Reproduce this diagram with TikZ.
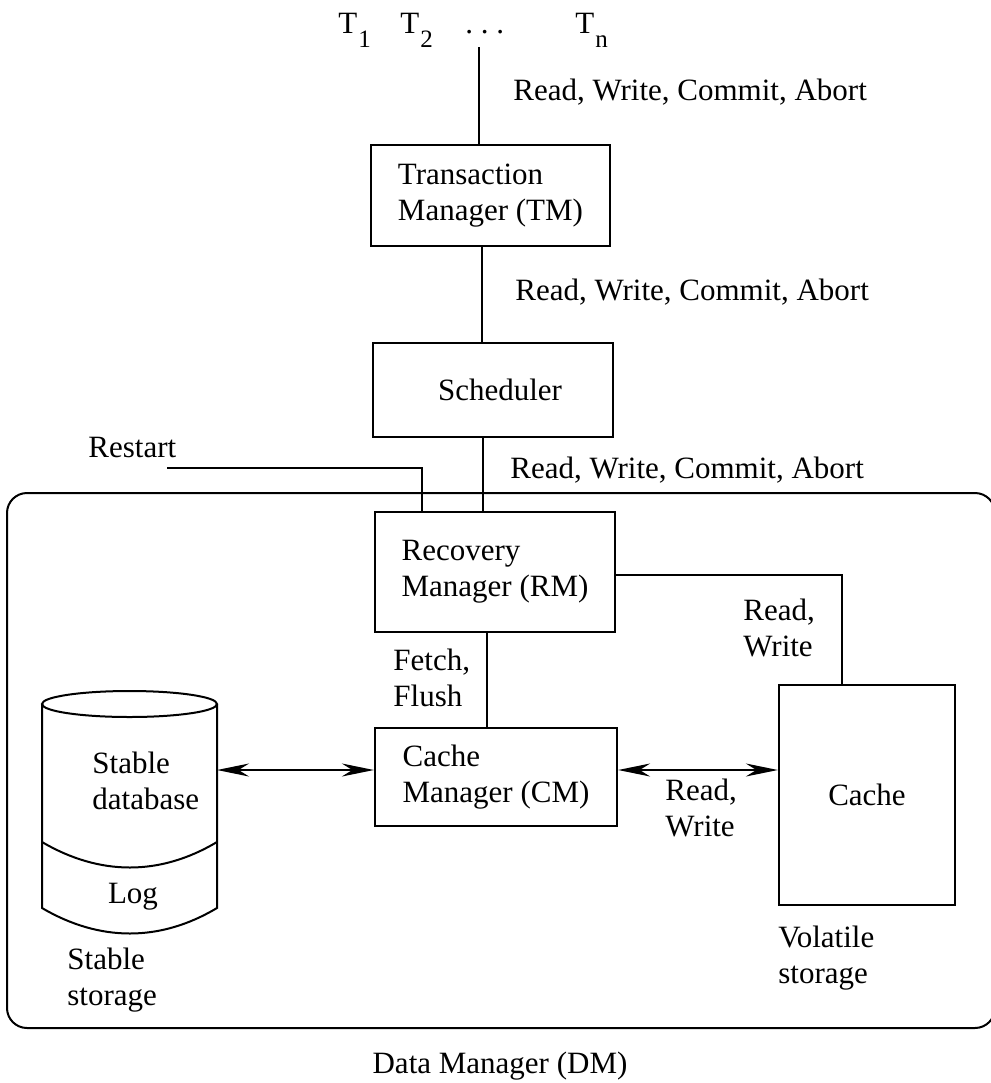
\documentclass[tikz,border=0pt]{standalone}
\usepackage{fontspec}
\setmainfont{Liberation Serif}
\usetikzlibrary{arrows.meta}
% transaction name with a lowered subscript
\newcommand\Tsub[1]{T\kern0.5pt\raisebox{-7pt}{\fontsize{12.5pt}{12.5pt}\selectfont #1}}
\begin{document}
\begin{tikzpicture}[x=0.5pt,y=-0.5pt,
  every node/.style={font=\fontsize{15.5pt}{18pt}\selectfont, inner sep=0pt},
  box/.style={draw, line width=1.1pt, align=left},
  txt/.style={align=left},
  conn/.style={line width=1pt},
  dbl/.style={line width=1pt,
    {Stealth[length=16pt,width=6.5pt]}-{Stealth[length=16pt,width=6.5pt]}}]
\useasboundingbox (0,0) rectangle (991,1083);

% helper x / y positions for connector runs
\coordinate (x422) at (422,0);
\coordinate (x482) at (482,0);
\coordinate (x483) at (483,0);
\coordinate (x487) at (487,0);
\coordinate (x842) at (842,0);
\coordinate (y575) at (0,575);

% transactions
\node[anchor=base west] (t1) at (338,33) {\Tsub{1}};
\node[anchor=base west] (t2) at (400,33) {\Tsub{2}};
\node[anchor=base west] (tdots) at (465,33) {.\ .\ .};
\node[anchor=base west] (tn) at (575,33) {\Tsub{n}};
\coordinate (tin) at (479,47);

% data manager frame
\draw[line width=1pt, rounded corners=10pt] (7,493) rectangle (995,1028);
\node[anchor=base] (dm) at (500,1073) {Data Manager (DM)};

% modules
\node[box, minimum width=119.5pt, minimum height=50.5pt] (tm) at (490.5,195.5) {Transaction\\Manager (TM)};
\node[box, minimum width=120pt, minimum height=47pt] (sch) at (493,390) {\hspace*{7pt}Scheduler};
\node[box, minimum width=120pt, minimum height=60pt] (rm) at (495,572) {Recovery\\Manager (RM)};
\node[box, minimum width=121pt, minimum height=49pt] (cm) at (496,777) {Cache\\Manager (CM)};
\node[box, minimum width=88pt, minimum height=110pt] (cache) at (867,795) {Cache};

% stable storage cylinder
\draw[line width=1pt] (129.5,704) ellipse [x radius=87.5, y radius=13];
\draw[line width=1pt] (42,704) -- (42,908) .. controls (100,942) and (160,942) .. (217,908) -- (217,704);
\draw[line width=1pt] (42,842) .. controls (100,876) and (160,876) .. (217,842);
\node[txt, anchor=north west] (sdb) at (92,752) {Stable\\database};
\node[anchor=base] (log) at (133,903) {Log};
\coordinate (cylE) at (217,770);

% labels
\node[anchor=base west] (l1) at (513,100) {Read, Write, Commit, Abort};
\node[anchor=base west] (l2) at (515,300) {Read, Write, Commit, Abort};
\node[anchor=base west] (l3) at (510,478) {Read, Write, Commit, Abort};
\node[anchor=base west] (restart) at (88,457) {Restart};
\coordinate (rs) at (167,468);
\node[txt, anchor=north west] (rw1) at (743,599) {Read,\\Write};
\node[txt, anchor=north west] (ff) at (393,649) {Fetch,\\Flush};
\node[txt, anchor=north west] (rw2) at (665,779) {Read,\\Write};
\node[txt, anchor=north west] (ss) at (67,948) {Stable\\storage};
\node[txt, anchor=north west] (vs) at (778,926) {Volatile\\storage};

% connectors
\draw[conn] (tin) -- (tin |- tm.north);
\draw[conn] (tm.south -| x482) -- (sch.north -| x482);
\draw[conn] (sch.south -| x483) -- (rm.north -| x483);
\draw[conn] (rs) -| (rm.north -| x422);
\draw[conn] (rm.east |- y575) -| (cache.north -| x842);
\draw[conn] (rm.south -| x487) -- (cm.north -| x487);
\draw[dbl] (cylE) -- (cylE -| cm.west);
\draw[dbl] (cylE -| cm.east) -- (cylE -| cache.west);
\end{tikzpicture}
\end{document}
